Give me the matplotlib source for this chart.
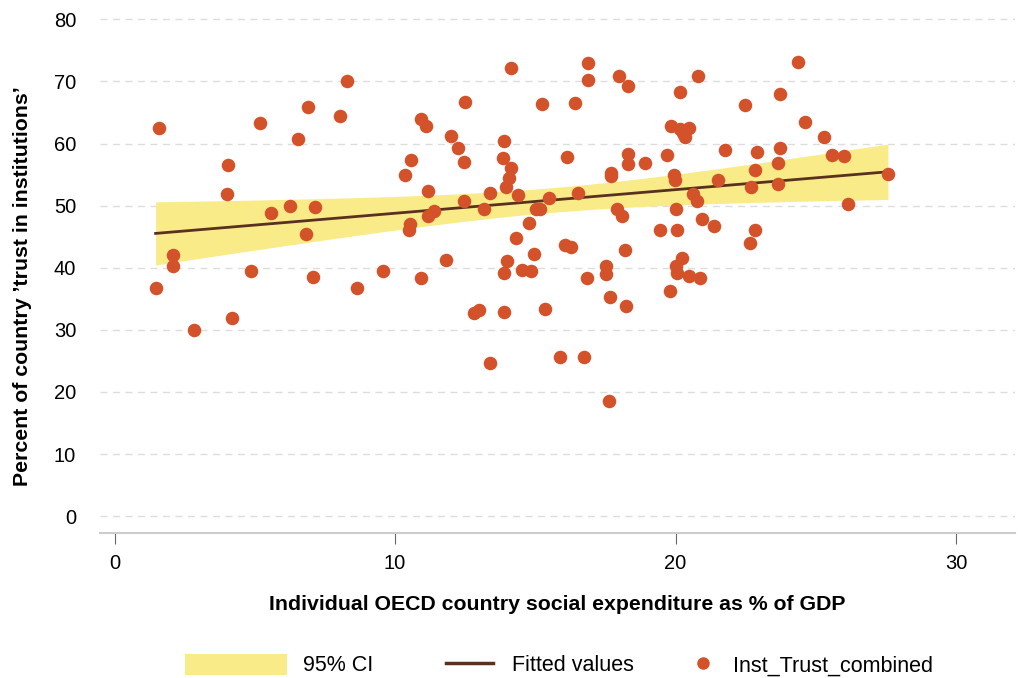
import numpy as np
import matplotlib
matplotlib.use("Agg")
import matplotlib.pyplot as plt
from matplotlib.patches import Patch
from matplotlib.lines import Line2D

plt.rcParams['font.family'] = ['Liberation Sans', 'DejaVu Sans']

# social expenditure (% of GDP) and trust in institutions (%)
social_exp = [
    1.46, 1.58, 2.07, 2.07, 2.83, 4.03, 4.00, 4.17, 4.87, 5.19,
    5.57, 6.26, 6.55, 6.83, 6.89, 7.09, 7.14, 8.02, 8.30, 8.65,
    9.57, 10.37, 10.52, 10.49, 10.58, 10.92, 10.94, 11.09, 11.18, 11.18,
    11.40, 11.83, 11.98, 12.25, 12.44, 12.45, 12.50, 12.81, 13.00, 13.18,
    13.38, 13.39, 13.87, 13.87, 13.86, 13.88, 13.98, 13.96, 14.06, 14.12,
    14.14, 14.31, 14.39, 14.52, 14.78, 14.84, 14.97, 15.01, 15.18, 15.25,
    15.33, 15.50, 15.89, 16.14, 16.05, 16.26, 16.42, 16.51, 16.73, 16.84,
    16.89, 16.89, 17.52, 17.52, 17.61, 17.66, 17.69, 17.69, 17.91, 17.97,
    18.10, 18.21, 18.29, 18.29, 18.29, 18.25, 18.92, 19.44, 19.69, 19.81,
    19.85, 19.93, 19.98, 20.00, 20.05, 20.03, 20.04, 20.14, 20.17, 20.32,
    20.47, 20.26, 20.24, 20.47, 20.62, 20.76, 20.81, 20.86, 20.95, 21.37,
    21.53, 21.75, 22.47, 22.67, 22.68, 22.83, 22.84, 22.90, 23.65, 23.66,
    23.73, 23.72, 24.37, 24.63, 25.30, 25.59, 26.01, 26.14, 27.57,
]
inst_trust = [
    36.8, 62.5, 42.1, 40.2, 29.9, 56.6, 51.8, 31.9, 39.4, 63.3,
    48.8, 50.0, 60.7, 45.4, 65.9, 38.5, 49.8, 64.4, 70.0, 36.7,
    39.5, 54.9, 47.1, 46.1, 57.3, 64.0, 38.3, 62.8, 52.4, 48.4,
    49.1, 41.3, 61.2, 59.3, 57.0, 50.8, 66.7, 32.7, 33.2, 49.4,
    52.0, 24.7, 32.8, 60.4, 57.6, 39.1, 41.1, 53.0, 54.5, 72.2,
    56.1, 44.8, 51.7, 39.7, 47.2, 39.5, 42.2, 49.4, 49.4, 66.3,
    33.4, 51.3, 25.6, 57.9, 43.6, 43.3, 66.5, 52.1, 25.7, 38.4,
    72.9, 70.2, 40.3, 39.0, 18.6, 35.3, 55.2, 54.7, 49.5, 70.8,
    48.3, 42.8, 69.3, 58.3, 56.7, 33.8, 56.9, 46.1, 58.2, 36.2,
    62.8, 54.9, 54.2, 49.5, 46.1, 40.2, 39.2, 68.3, 62.3, 61.0,
    62.5, 61.7, 41.5, 38.7, 51.9, 50.7, 70.8, 38.4, 47.9, 46.7,
    54.1, 58.9, 66.2, 44.0, 53.0, 55.7, 46.1, 58.7, 56.9, 53.5,
    68.0, 59.3, 73.2, 63.4, 61.0, 58.1, 58.0, 50.2, 55.1,
]

x = np.array(social_exp)
y = np.array(inst_trust)

# linear fit with 95% confidence band for the mean
n = len(x)
slope, intercept = np.polyfit(x, y, 1)
resid = y - (intercept + slope * x)
s = np.sqrt(np.sum(resid ** 2) / (n - 2))
sxx = np.sum((x - x.mean()) ** 2)
xs = np.linspace(x.min(), x.max(), 200)
fit = intercept + slope * xs
se = s * np.sqrt(1.0 / n + (xs - x.mean()) ** 2 / sxx)
tcrit = 1.979
lo, hi = fit - tcrit * se, fit + tcrit * se

ci_color = '#F9EC88'
fit_color = '#5A3020'
dot_color = '#D4522A'

W, H = 1018, 678
fig = plt.figure(figsize=(W / 100, H / 100), dpi=100)
ax = fig.add_axes([0.098, 0.214, 0.899, 0.774])

ax.fill_between(xs, lo, hi, color=ci_color, lw=0, zorder=1)
ax.plot(xs, fit, color=fit_color, lw=2, zorder=2)
ax.scatter(x, y, s=95, color=dot_color, lw=0, zorder=3)

ax.set_xlim(-0.53, 32.1)
ax.set_ylim(-2.7, 81.8)
ax.set_xticks([0, 10, 20, 30])
ax.set_yticks(range(0, 81, 10))
ax.tick_params(axis='y', length=0, labelsize=14.5, pad=17)
ax.tick_params(axis='x', length=8, color='#666666', labelsize=14.5, pad=7)
ax.grid(axis='y', color='#DDDDDD', ls=(0, (5, 4)), lw=1)
ax.set_axisbelow(True)
for side in ['top', 'right', 'left']:
    ax.spines[side].set_visible(False)
ax.spines['bottom'].set_color('#CCCCCC')
ax.spines['bottom'].set_linewidth(1.5)

ax.set_xlabel('Individual OECD country social expenditure as % of GDP',
              fontsize=15.3, fontweight='bold', labelpad=16)
ax.set_ylabel("Percent of country \u2019trust in institutions\u2019",
              fontsize=15.3, fontweight='bold')
ax.yaxis.set_label_coords(-0.074, 0.47)

# legend entries laid out in a row under the x label
leg_fs = 15.5
em = leg_fs * 100 / 72
leg_y = 1 - 665 / H
entries = [
    (Patch(facecolor=ci_color, edgecolor='none'), '95% CI', 185, 102, 16),
    (Line2D([0], [0], color=fit_color, lw=2.5), 'Fitted values', 446, 47, 19),
    (Line2D([0], [0], marker='o', color='none', markerfacecolor=dot_color,
            markeredgecolor='none', markersize=9),
     'Inst_Trust_combined', 693, 20, 20),
]
for handle, label, x0, hlen, tpad in entries:
    leg = fig.legend([handle], [label], loc='center left',
                     bbox_to_anchor=(x0 / W, leg_y), frameon=False,
                     fontsize=leg_fs, handlelength=hlen / em,
                     handleheight=24 / em, handletextpad=tpad / em,
                     borderpad=0, borderaxespad=0)

fig.savefig('out.png', dpi=100)
